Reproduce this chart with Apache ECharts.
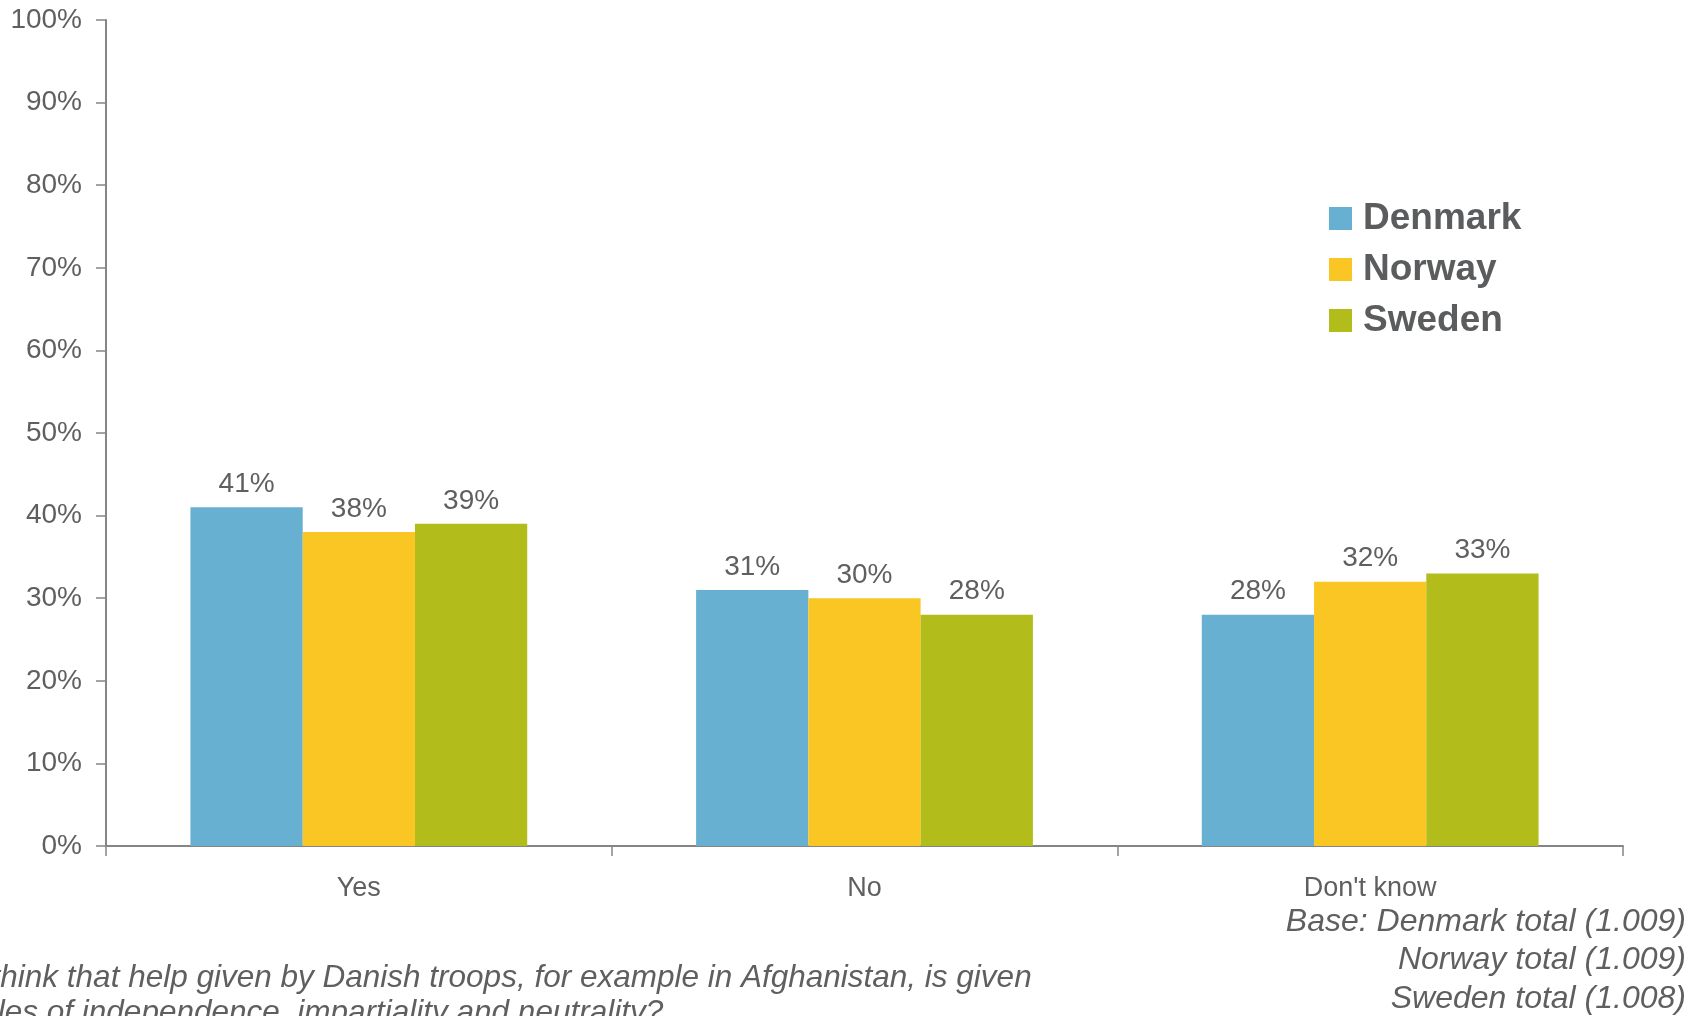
<!DOCTYPE html>
<html>
<head>
<meta charset="utf-8">
<script src="https://cdn.jsdelivr.net/npm/echarts@6/dist/echarts.min.js"></script>
<style>
html,body{margin:0;padding:0;background:#fff;}
#chart{width:1707px;height:1016px;}
</style>
</head>
<body>
<div id="chart"></div>
<script>
const categories = ["Yes", "No", "Don't know"];
const denmark = [41, 31, 28];
const norway = [38, 30, 32];
const sweden = [39, 28, 33];
const seriesNames = ["Denmark", "Norway", "Sweden"];
const colors = ["#67B0D1", "#F9C623", "#B2BC1B"];
const yTicks = [0, 10, 20, 30, 40, 50, 60, 70, 80, 90, 100];
const baseNotes = ["Base: Denmark total (1.009)", "Norway total (1.009)", "Sweden total (1.008)"];
const questionLines = ["Do you think that help given by Danish troops, for example in Afghanistan, is given", "principles of independence, impartiality and neutrality?"];

const textColor = "#5F5F5F";
const fontFamily = "Liberation Sans, Arial, sans-serif";

const chart = echarts.init(document.getElementById('chart'), null, {renderer: 'canvas'});

function barSeries(name, data, color) {
  return {
    name: name,
    type: 'bar',
    data: data,
    barGap: '0%',
    barCategoryGap: '33.4%',
    itemStyle: {color: color},
    label: {
      show: true,
      position: 'top',
      distance: 9,
      formatter: '{c}%',
      fontSize: 28,
      color: textColor,
      fontFamily: fontFamily
    },
    emphasis: {disabled: true}
  };
}

const option = {
  animation: false,
  backgroundColor: '#ffffff',
  grid: {left: 106, right: 84, top: 20, bottom: 170, containLabel: false},
  legend: {
    orient: 'vertical',
    left: 1324,
    top: 195,
    itemWidth: 23,
    itemHeight: 23,
    itemGap: 14,
    icon: 'rect',
    data: seriesNames,
    textStyle: {
      fontSize: 37,
      fontWeight: 'bold',
      color: '#5A5C5E',
      fontFamily: fontFamily,
      padding: [0, 0, 0, 6]
    }
  },
  xAxis: {
    type: 'category',
    data: categories,
    axisLine: {lineStyle: {color: '#858585', width: 2}},
    axisTick: {show: true, length: 10, lineStyle: {color: '#858585', width: 1.5}},
    axisLabel: {fontSize: 27, color: textColor, margin: 29, fontFamily: fontFamily}
  },
  yAxis: {
    type: 'value',
    min: yTicks[0],
    max: yTicks[yTicks.length - 1],
    interval: yTicks[1] - yTicks[0],
    splitLine: {show: false},
    axisLine: {show: true, lineStyle: {color: '#858585', width: 2}},
    axisTick: {show: true, length: 10, lineStyle: {color: '#858585', width: 1.5}},
    axisLabel: {formatter: '{value}%', fontSize: 28, color: textColor, margin: 24, fontFamily: fontFamily}
  },
  series: [
    barSeries(seriesNames[0], denmark, colors[0]),
    barSeries(seriesNames[1], norway, colors[1]),
    barSeries(seriesNames[2], sweden, colors[2])
  ],
  graphic: [
    ...baseNotes.map((t, i) => ({
      type: 'text',
      right: 21,
      top: 906 + i * 38.5,
      style: {
        text: t,
        fontSize: 32,
        fontStyle: 'italic',
        fill: textColor,
        fontFamily: fontFamily,
        align: 'right'
      }
    })),
    {
      type: 'text',
      x: -117,
      y: 962,
      style: {text: questionLines[0], fontSize: 31.5, fontStyle: 'italic', fill: textColor, fontFamily: fontFamily}
    },
    {
      type: 'text',
      x: -95,
      y: 997,
      style: {text: questionLines[1], fontSize: 31.5, fontStyle: 'italic', fill: textColor, fontFamily: fontFamily}
    }
  ]
};
chart.setOption(option);
</script>
</body>
</html>
